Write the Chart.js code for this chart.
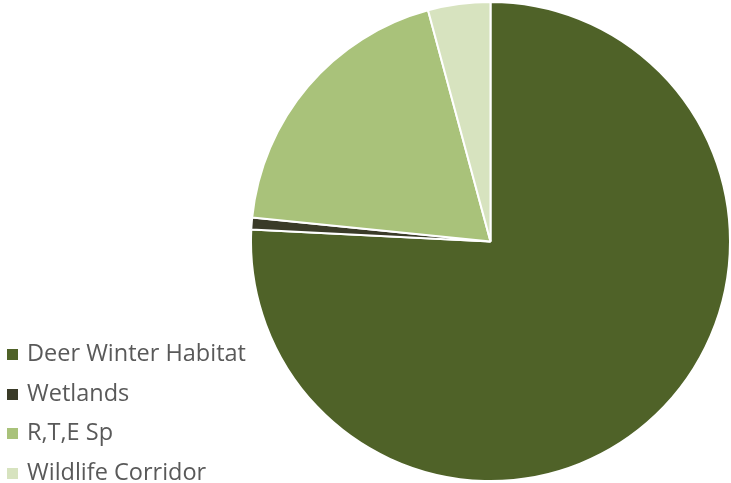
<!DOCTYPE html>
<html>
<head>
<meta charset="utf-8">
<script src="https://cdn.jsdelivr.net/npm/chart.js@4"></script>
<style>
  html, body { margin: 0; padding: 0; background: #fff; }
  #wrap { position: relative; width: 731px; height: 483px; }
  #legend { position: absolute; left: 7px; top: 334px; margin: 0; padding: 0; list-style: none;
            font-family: "Open Sans", sans-serif; font-size: 23.5px; color: #595959; }
  #legend li { height: 39.5px; line-height: 36px; white-space: nowrap; }
  #legend span { display: inline-block; width: 11px; height: 11px; margin-right: 9px; vertical-align: 1px; }
</style>
</head>
<body>
<div id="wrap">
  <canvas id="pie" width="731" height="483"></canvas>
  <ul id="legend"></ul>
</div>
<script>
const categories = ['Deer Winter Habitat', 'Wetlands', 'R,T,E Sp', 'Wildlife Corridor'];
const shares = [75.8, 0.8, 19.2, 4.2];
const colors = ['#4f6228', '#3a3b28', '#a9c27a', '#d7e3bf'];

const legendEl = document.getElementById('legend');
categories.forEach((name, i) => {
    const li = document.createElement('li');
    li.innerHTML = `<span style="background:${colors[i]}"></span>${name}`;
    legendEl.appendChild(li);
});

new Chart(document.getElementById('pie').getContext('2d'), {
    type: 'pie',
    data: {
        labels: categories,
        datasets: [{
            data: shares,
            backgroundColor: colors,
            borderColor: '#ffffff',
            borderWidth: 2
        }]
    },
    options: {
        responsive: false,
        animation: false,
        layout: { padding: { left: 250, top: 0, bottom: 0, right: 0 } },
        plugins: {
            legend: { display: false },
            tooltip: { enabled: false }
        }
    }
});
</script>
</body>
</html>
